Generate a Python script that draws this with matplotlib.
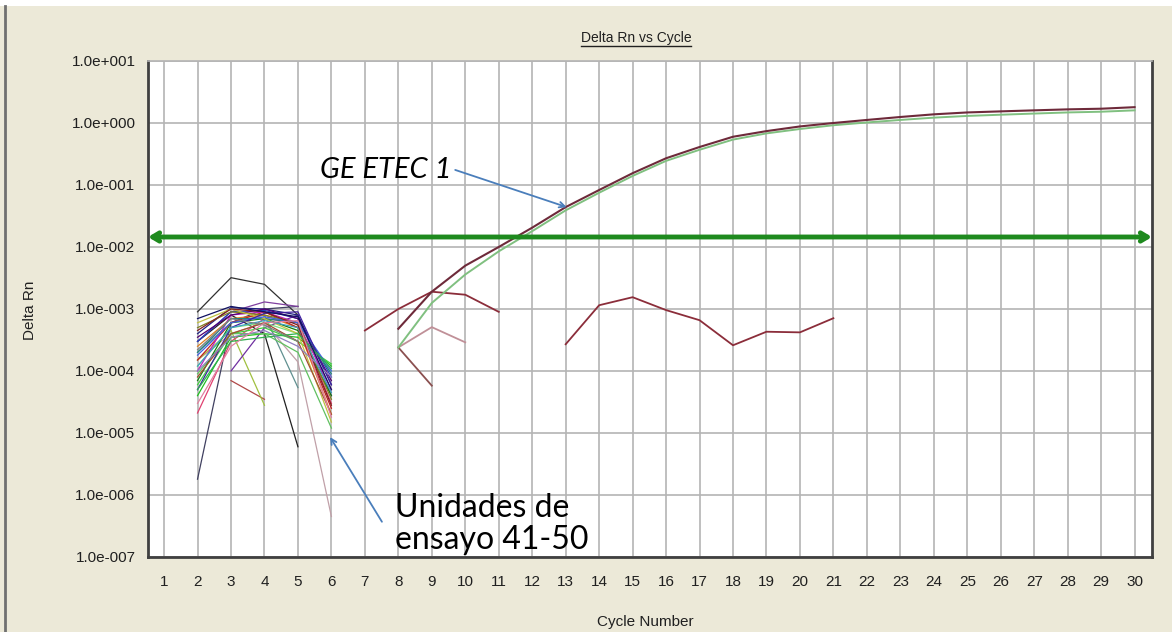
import numpy as np
import matplotlib
matplotlib.use('Agg')
import matplotlib.pyplot as plt
from matplotlib.patches import Rectangle
from matplotlib.lines import Line2D

nan = np.nan

# amplification curves (GE ETEC 1)
cycles_main = list(range(8, 31))
etec_dark = [4.8e-4, 1.9e-3, 5.0e-3, 1.0e-2, 2.05e-2, 4.4e-2, 8.3e-2, 0.155, 0.27, 0.41,
             0.60, 0.74, 0.88, 1.0, 1.12, 1.25, 1.38, 1.48, 1.54, 1.60, 1.66, 1.70, 1.80]
etec_green = [2.4e-4, 1.25e-3, 3.6e-3, 8.5e-3, 1.8e-2, 3.9e-2, 7.5e-2, 0.14, 0.245, 0.37,
              0.54, 0.68, 0.80, 0.92, 1.02, 1.12, 1.22, 1.30, 1.36, 1.42, 1.48, 1.52, 1.60]

# scattered noise traces
noise_cycles = [list(range(7, 12)), [8, 9, 10], [8, 9], list(range(13, 22))]
noise_values = [[4.5e-4, 1.0e-3, 1.9e-3, 1.7e-3, 9e-4],
                [2.4e-4, 5.1e-4, 2.9e-4],
                [2.4e-4, 5.8e-5],
                [2.7e-4, 1.15e-3, 1.55e-3, 9.6e-4, 6.6e-4, 2.6e-4, 4.3e-4, 4.2e-4, 7.1e-4]]
noise_colors = ['#8b2d3a', '#c09098', '#8b5050', '#8b2d3a']

# assay units 41-50, cycles 2..6
cluster_cycles = [2, 3, 4, 5, 6]
cluster_values = [
    [9e-4, 3.2e-3, 2.5e-3, 8e-4, nan],
    [1.8e-6, 6e-4, 1.0e-3, 1.1e-3, nan],
    [3e-4, 8e-4, 4e-4, 6e-6, nan],
    [1.5e-4, 4e-4, 6e-4, 1.4e-4, 4.5e-7],
    [nan, 7e-5, 3.5e-5, nan, nan],
    [1.5e-4, 4.5e-4, 2.8e-5, nan, nan],
    [nan, 1.0e-4, 5e-4, 8e-4, 4e-5],
    [2.1e-5, 3e-4, 7e-4, 6e-4, 3e-5],
    [2e-4, 6e-4, 8e-4, 5.4e-5, nan],
    [3e-4, 9e-4, 1.3e-3, 1.1e-3, nan],
    [4e-4, 1.05e-3, 1.0e-3, 8e-4, 6e-5],
    [3e-4, 9e-4, 9.5e-4, 7e-4, 8e-5],
    [4e-5, 3.5e-4, 4e-4, 3.5e-4, 1.2e-4],
    [6e-5, 4e-4, 5e-4, 3e-4, 1.3e-4],
    [9e-5, 4e-4, 4e-4, 2e-4, 1.2e-5],
    [1.2e-4, 5e-4, 6e-4, 4e-4, 1.0e-4],
    [7e-5, 6e-4, 7e-4, 4.5e-4, 4e-5],
    [2.5e-4, 7e-4, 8e-4, 5e-4, 2e-5],
    [1.5e-4, 6e-4, 9e-4, 5e-4, 2.5e-5],
    [1e-4, 8e-4, 9e-4, 6e-4, 5e-5],
    [3.5e-4, 8e-4, 1.0e-3, 7e-4, 7e-5],
    [2e-4, 7e-4, 7e-4, 6e-4, 9e-5],
    [5e-4, 9e-4, 8e-4, 6e-4, 3.5e-5],
    [6e-4, 1.0e-3, 7e-4, 4e-4, 1.5e-5],
    [1.8e-4, 6e-4, 7.5e-4, 6e-4, 1e-4],
    [5e-5, 5e-4, 8.5e-4, 9e-4, 6e-5],
    [8e-5, 4e-4, 6e-4, 3e-4, 2e-5],
    [1.2e-4, 5e-4, 6.5e-4, 5e-4, 4.5e-5],
    [4.5e-4, 1.0e-3, 9e-4, 5.5e-4, 2.8e-5],
    [5e-5, 3e-4, 3.5e-4, 4e-4, 1.1e-4],
    [1e-4, 3.5e-4, 4.5e-4, 2.5e-4, 8e-5],
    [2.2e-4, 7e-4, 5.5e-4, 3e-4, nan],
    [7e-4, 1.1e-3, 9e-4, 7.5e-4, 5e-5],
    [3e-5, 2.5e-4, 6e-4, 6.5e-4, 1.8e-5],
]
cluster_colors = ['#303030', '#404060', '#202020', '#c0a0a8', '#b04848', '#a0c040',
                  '#7030a0', '#e04070', '#609090', '#8040a0', '#202080', '#2040c0',
                  '#20c020', '#40d040', '#60c060', '#80e080', '#108010', '#e08020',
                  '#c02020', '#c020c0', '#500070', '#208080', '#808020', '#c0c040',
                  '#4060e0', '#4020a0', '#a05030', '#40a0c0', '#802020', '#30b050',
                  '#9080c0', '#808080', '#101060', '#e080a0']

threshold = 0.0145
x_ticks = list(range(1, 31))
y_ticks = [1e-7, 1e-6, 1e-5, 1e-4, 1e-3, 1e-2, 1e-1, 1e0, 1e1]
y_labels = ['1.0e-007', '1.0e-006', '1.0e-005', '1.0e-004', '1.0e-003',
            '1.0e-002', '1.0e-001', '1.0e+000', '1.0e+001']

plt.rcParams['font.family'] = ['Liberation Sans', 'DejaVu Sans']

W, H = 1172, 632
fig = plt.figure(figsize=(W / 100, H / 100), dpi=100, facecolor='#ece9d8')
# top white strip and left window border
fig.add_artist(Rectangle((0, 1 - 6 / H), 1, 6 / H, transform=fig.transFigure,
                         facecolor='white', edgecolor='none'))
fig.add_artist(Line2D([5 / W, 5 / W], [0, 1 - 6 / H], transform=fig.transFigure,
                      color='#707070', lw=2))

ax = fig.add_axes([148 / W, 1 - 557 / H, 1004 / W, 496 / H])
ax.set_facecolor('white')
ax.set_yscale('log')
ax.set_xlim(0.52, 30.52)
ax.set_ylim(1e-7, 1e1)

ax.set_xticks(x_ticks)
ax.set_xticklabels([str(c) for c in x_ticks])
ax.set_yticks(y_ticks)
ax.set_yticklabels(y_labels)
ax.minorticks_off()
ax.tick_params(axis='both', length=0, labelsize=11, colors='#202020')
ax.tick_params(axis='x', pad=13)
ax.tick_params(axis='y', pad=9)
ax.grid(True, color='#b4b4b4', lw=1.2)
ax.set_axisbelow(True)

for side in ['left', 'bottom', 'right']:
    ax.spines[side].set_color('#404040')
    ax.spines[side].set_linewidth(2)
ax.spines['top'].set_color('#b4b4b4')
ax.spines['top'].set_linewidth(1.2)

for vals, col in zip(cluster_values, cluster_colors):
    ax.plot(cluster_cycles, vals, color=col, lw=0.9)

for cyc, vals, col in zip(noise_cycles, noise_values, noise_colors):
    ax.plot(cyc, vals, color=col, lw=1.3)

ax.plot(cycles_main, etec_green, color='#80c080', lw=1.4)
ax.plot(cycles_main, etec_dark, color='#6e2a3a', lw=1.5)

# threshold line
ax.annotate('', xy=(0.52, threshold), xytext=(30.52, threshold),
            arrowprops=dict(arrowstyle='<->,head_length=0.5,head_width=0.3',
                            color='#1e8a1e', lw=3.5, shrinkA=0, shrinkB=0))

fig.text(645 / W, 1 - 622 / H, 'Cycle Number', ha='center', va='center',
         fontsize=11, color='#202020')
fig.text(30 / W, 1 - 310 / H, 'Delta Rn', ha='center', va='center', rotation=90,
         fontsize=11, color='#202020')

# underlined title
title = fig.text(636 / W, 1 - 38 / H, 'Delta Rn vs Cycle', ha='center', va='center',
                 fontsize=10, color='#202020')
fig.canvas.draw()
bb = title.get_window_extent().transformed(fig.transFigure.inverted())
fig.add_artist(Line2D([bb.x0, bb.x1], [bb.y0 - 0.002, bb.y0 - 0.002],
                      transform=fig.transFigure, color='#202020', lw=1))

# annotations
fig.text(452 / W, 1 - 170 / H, 'GE ETEC 1', fontsize=21, fontstyle='italic',
         family=['Lato', 'DejaVu Sans'], ha='right', va='center', color='black')
ax.annotate('', xy=(13.03, 4.4e-2), xytext=(9.7, 0.175),
            arrowprops=dict(arrowstyle='->', color='#4a7ebb', lw=1.3,
                            shrinkA=0, shrinkB=0))
fig.text(395 / W, 1 - 524 / H, 'Unidades de\nensayo 41-50', fontsize=23,
         family=['Lato', 'DejaVu Sans'], ha='left', va='center',
         linespacing=1.1, color='black')
ax.annotate('', xy=(5.96, 8.6e-6), xytext=(7.51, 3.7e-7),
            arrowprops=dict(arrowstyle='->', color='#4a7ebb', lw=1.3,
                            shrinkA=0, shrinkB=0))

fig.savefig('out.png', dpi=100, facecolor=fig.get_facecolor())
